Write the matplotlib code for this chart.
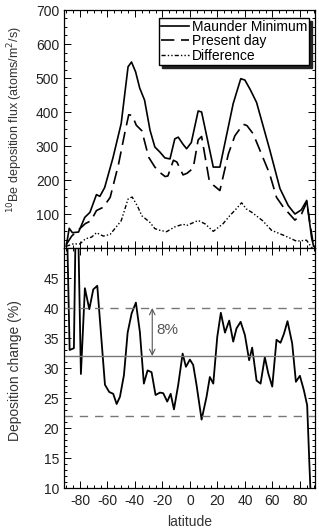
import numpy as np
import matplotlib
matplotlib.use('Agg')
import matplotlib.pyplot as plt
from matplotlib.ticker import MultipleLocator

plt.rcParams['font.family'] = ['Liberation Sans', 'DejaVu Sans']
plt.rcParams['axes.unicode_minus'] = False

# Maunder Minimum flux (atoms/m2/s)
mm_lat = [-90, -87.8, -85.5, -81, -76.5, -72.7, -68, -65.5, -62, -56, -50, -45, -42.5,
          -39.5, -36.5, -33, -29, -25.5, -21.8, -18.2, -14.5, -11, -8.5, -5, -2.4, 1,
          6, 8.5, 17, 21.8, 31.5, 37, 40, 44, 48.5, 58, 65.5, 71.5, 76.4, 81, 85,
          88.5, 90]
mm_val = [5, 58, 45, 47, 90, 105, 157, 152, 178, 265, 366, 533, 547,
          518, 470, 435, 346, 297, 282, 265, 262, 321, 326, 305, 292, 310,
          403, 400, 238, 238, 425, 498, 494, 465, 428, 290, 175, 125, 100, 112, 140,
          31, 5]

# Present day flux
pd_lat = [-90, -86, -82, -76, -72, -68, -63, -58, -52, -47, -44.5, -42, -39, -35, -30,
          -25.5, -21.8, -18, -16, -12, -9.5, -5, -2, 2.4, 6, 8.5, 14, 17, 21.8, 28,
          32.7, 38.8, 41.5, 46, 58, 63, 68, 76.4, 81.2, 85, 88, 90]
pd_val = [10, 35, 50, 72, 80, 110, 120, 149, 245, 346, 392, 390, 361, 345, 267,
          238, 222, 210, 212, 258, 253, 215, 220, 235, 318, 328, 200, 185, 169, 277,
          330, 364, 360, 336, 218, 149, 120, 82, 100, 135, 55, 5]

# Difference
df_lat = [-90, -85, -80, -76, -71.5, -68, -63, -58, -50, -45, -42, -38, -35, -29,
          -25.5, -21.8, -17, -11, -5, -2.4, 1, 6, 11, 17, 24, 29, 33, 37.6, 41, 45,
          53, 59.4, 69, 77.6, 84.8, 88.5, 90]
df_val = [5, 12, 12, 27, 32, 45, 35, 40, 80, 144, 150, 122, 95, 75,
          57, 52, 48, 62, 70, 66, 72, 81, 71, 49, 71, 95, 112, 133, 115, 105,
          80, 52, 36, 20, 23, 2, 0]

# Deposition change (%)
ch_lat = [-90, -87.5, -84.4, -83, -81.5, -79.3, -76.4, -73.2, -70.3, -67.4, -61.8,
          -58.7, -55.8, -53.3, -50.9, -48, -45.3, -42.4, -39.3, -36.4, -33.5, -30.8,
          -27.9, -25, -21.8, -19.4, -16.5, -14, -11.6, -8.5, -5.3, -2.9, 0, 2.4, 4.8,
          8.5, 12.1, 14.5, 17, 19.9, 22.5, 25.5, 28.6, 31.5, 33.9, 36.9, 40, 43.1,
          45.3, 48.5, 51.4, 54.5, 57, 59.9, 63, 65.9, 68.4, 71, 74.4, 77.1, 80, 82.9,
          85.3, 86.8, 88.5]
ch_val = [60, 33, 33.3, 56, 56, 29, 43.3, 39.8, 43.1, 43.7, 27.2,
          26, 25.7, 24, 25.2, 28.8, 35.9, 39.1, 40.9, 36, 27.4, 29.6,
          29.3, 25.5, 25.9, 25.8, 24.4, 25.7, 23.1, 27.2, 32.4, 30.2, 31.4, 30.5, 27.2,
          21.4, 25.2, 28.5, 27.4, 35.2, 39.2, 35.9, 37.9, 34.4, 36.6, 37.7, 35.5, 31.3,
          33.4, 27.9, 27.4, 31.8, 29.1, 26.9, 34.7, 34.2, 35.7, 37.8, 34.1, 27.7, 28.7, 26.3,
          23.8, 14.7, 5]

mean_change = 32
band = 8
xticks = [-80, -60, -40, -20, 0, 20, 40, 60, 80]

fig = plt.figure(figsize=(3.19, 5.29), dpi=100)
W, H = 319, 529
ax1 = fig.add_axes([64 / W, 1 - 248 / H, 251 / W, 238 / H])
ax2 = fig.add_axes([64 / W, 1 - 488 / H, 251 / W, 240 / H])

ax1.plot(mm_lat, mm_val, color='black', lw=1.2, label='Maunder Minimum')
ax1.plot(pd_lat, pd_val, color='black', lw=1.2, dashes=(8, 4), label='Present day')
ax1.plot(df_lat, df_val, color='black', lw=1.0, dashes=(3, 1.5, 1, 1.5, 1, 1.5),
         label='Difference')
ax1.set_ylim(0, 700)
ax1.set_yticks(range(100, 701, 100))
ax1.yaxis.set_minor_locator(MultipleLocator(25))
ax1.set_ylabel('$^{10}$Be deposition flux (atoms/m$^2$/s)', fontsize=9, color='#333333',
               va='center')
ax1.yaxis.set_label_coords(-49 / 251, 0.54)
leg = ax1.legend(loc='upper right', bbox_to_anchor=(245 / 251, 230 / 238),
                 fontsize=10, frameon=True, fancybox=False,
                 shadow=dict(ox=2, oy=-2, color='#222222', alpha=1),
                 edgecolor='black', framealpha=1, handlelength=2.0,
                 borderpad=0.15, labelspacing=0.02, handletextpad=0.2,
                 borderaxespad=0)
leg.get_frame().set_linewidth(1.0)

ax2.plot(ch_lat, ch_val, color='black', lw=1.3)
ax2.axhline(mean_change, color='#777777', lw=1.0)
ax2.axhline(mean_change + band, color='#777777', lw=1.0, dashes=(6, 5))
ax2.axhline(mean_change - 10, color='#777777', lw=1.0, dashes=(6, 5))
ax2.annotate('', xy=(-27.4, mean_change + band), xytext=(-27.4, mean_change),
             arrowprops=dict(arrowstyle='<->', color='#555555', lw=0.8,
                             shrinkA=0, shrinkB=0))
ax2.text(-24.5, 36.3, '8%', fontsize=11, color='#555555', va='center', ha='left')
ax2.set_ylim(10, 50)
ax2.set_yticks(range(10, 46, 5))
ax2.yaxis.set_minor_locator(MultipleLocator(1))
ax2.set_ylabel('Deposition change (%)', fontsize=10, color='#333333', va='center')
ax2.yaxis.set_label_coords(-49 / 251, 0.4875)
fig.text(189.5 / W, 1 - 522 / H, 'latitude', fontsize=10, color='#333333',
         ha='center', va='center')

for ax in (ax1, ax2):
    ax.set_xlim(-91.6, 91)
    ax.set_xticks(xticks)
    ax.xaxis.set_minor_locator(MultipleLocator(5))
    ax.tick_params(which='both', direction='in', top=True, right=True,
                   labelsize=10, labelcolor='#222222', width=0.7)
    ax.tick_params(which='major', length=5)
    ax.tick_params(which='minor', length=2.5)
    for s in ax.spines.values():
        s.set_linewidth(0.9)

ax1.tick_params(labelbottom=False)
ax2.tick_params(axis='x', pad=4)

fig.savefig('out.png', dpi=100)
